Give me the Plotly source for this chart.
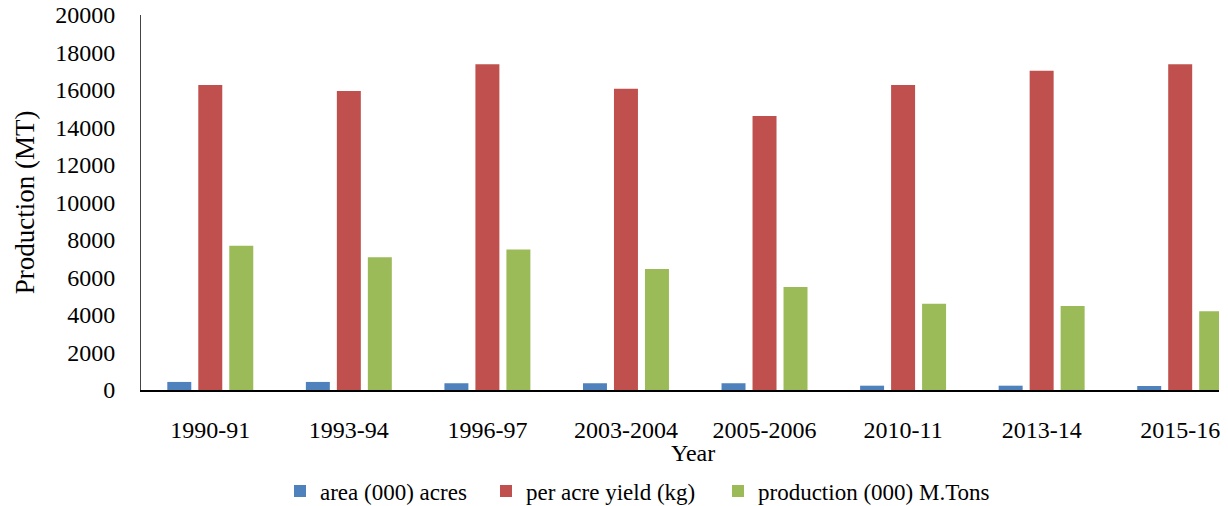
import plotly.graph_objects as go

# Crop statistics by season
years = ["1990-91", "1993-94", "1996-97", "2003-2004", "2005-2006", "2010-11", "2013-14", "2015-16"]
area_000_acres = [430, 430, 360, 360, 360, 230, 230, 215]
yield_per_acre_kg = [16270, 15950, 17370, 16070, 14610, 16270, 17030, 17370]
production_000_mt = [7700, 7080, 7500, 6450, 5490, 4600, 4480, 4200]

series_names = ["area (000) acres", "per acre yield (kg)", "production (000) M.Tons"]
series_colors = ["#4F81BD", "#C0504D", "#9BBB59"]
y_tick_values = [0, 2000, 4000, 6000, 8000, 10000, 12000, 14000, 16000, 18000, 20000]

FONT = "Liberation Serif, Times New Roman, serif"
W, H = 1228, 506
ML, MR, MT, MB = 141, 9, 15, 116
plot_w = W - ML - MR
plot_h = H - MT - MB

# one legend per series so each entry can sit at its own spot along the bottom row
legend_ids = ["legend", "legend2", "legend3"]
legend_left_px = [280, 486, 718]
legend_center_px = 491

fig = go.Figure()
for name, values, color, lid in zip(series_names,
                                    [area_000_acres, yield_per_acre_kg, production_000_mt],
                                    series_colors, legend_ids):
    fig.add_trace(go.Bar(x=list(range(len(years))), y=values, name=name, legend=lid,
                         marker=dict(color=color, line=dict(width=0))))

legend_common = dict(orientation="h", xref="paper", yref="container",
                     y=(H - legend_center_px) / H, yanchor="middle",
                     xanchor="left", font=dict(family=FONT, size=23, color="black"),
                     bgcolor="rgba(0,0,0,0)", borderwidth=0,
                     itemclick=False, itemdoubleclick=False)
legends = {}
for lid, px in zip(legend_ids, legend_left_px):
    legends[lid] = dict(legend_common, x=(px - ML) / plot_w)

fig.update_layout(
    width=W, height=H,
    margin=dict(l=ML, r=MR, t=MT, b=MB),
    paper_bgcolor="white", plot_bgcolor="white",
    barmode="group", bargap=0.329, bargroupgap=0.226,
    font=dict(family=FONT, color="black"),
    showlegend=True,
    **legends,
    xaxis=dict(
        range=[-0.5, 7.28],
        tickmode="array", tickvals=list(range(len(years))), ticktext=years,
        tickfont=dict(family=FONT, size=24, color="black"),
        ticklabelstandoff=17,
        showline=True, linecolor="black", linewidth=1.5,
        showgrid=False, zeroline=False, ticks="",
        automargin=False,
    ),
    yaxis=dict(
        range=[0, 20000],
        tickmode="array", tickvals=y_tick_values,
        ticktext=[str(v) for v in y_tick_values],
        tickfont=dict(family=FONT, size=24, color="black"),
        ticklabelstandoff=20,
        showline=True, linecolor="#444444", linewidth=1,
        showgrid=False, zeroline=False, ticks="",
        title=dict(text="Production (MT)", font=dict(family=FONT, size=27, color="black"), standoff=12),
        automargin=False,
    ),
    annotations=[dict(text="Year", xref="paper", yref="paper",
                      x=(693 - ML) / plot_w, y=-(453 - (H - MB)) / plot_h,
                      xanchor="center", yanchor="middle", showarrow=False,
                      font=dict(family=FONT, size=24, color="black"))],
)

fig.write_html("out.html")
